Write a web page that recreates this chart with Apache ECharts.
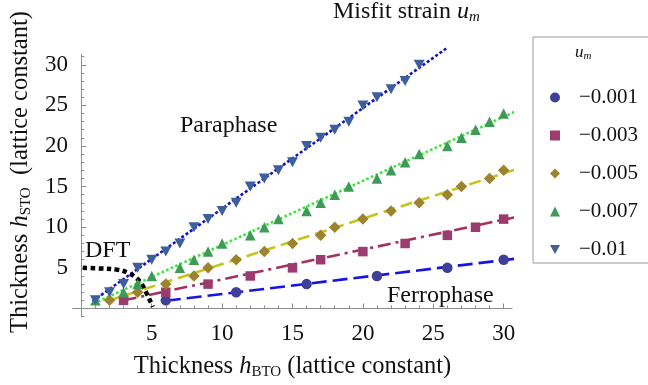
<!DOCTYPE html>
<html>
<head>
<meta charset="utf-8">
<script src="https://cdn.jsdelivr.net/npm/echarts@6/dist/echarts.min.js"></script>
<style>html,body{margin:0;padding:0;background:#fff;}#c{width:648px;height:385px;}</style>
</head>
<body>
<div id="c"></div>
<script>
// ---- data (h_BTO, h_STO) ----
const legendNames = ['\u22120.001', '\u22120.003', '\u22120.005', '\u22120.007', '\u22120.01'];
const ptsM001 = [[6,1],[11,2],[16,3],[21,4],[26,5],[30,6]];
const ptsM003 = [[3,1],[6,2],[9,3],[12,4],[15,5],[17,6],[20,7],[23,8],[26,9],[28,10],[30,11]];
const ptsM005 = [[2,1],[4,2],[6,3],[8,4],[9,5],[11,6],[13,7],[15,8],[17,9],[18,10],[20,11],[22,12],[24,13],[26,14],[27,15],[29,16],[30,17]];
const ptsM007 = [[1,1],[3,2],[4,3],[5,4],[7,5],[8,6],[9,7],[10,8],[12,9],[13,10],[14,11],[16,12],[17,13],[18,14],[19,15],[21,16],[22,17],[23,18],[24,19],[26,20],[27,21],[28,22],[29,23],[30,24]];
const ptsM010 = [[1,1],[2,2],[3,3],[4,5],[5,6],[6,7],[7,8],[8,10],[9,11],[10,12],[11,13],[12,15],[13,16],[14,17],[15,18],[16,20],[17,21],[18,22],[19,23],[20,25],[21,26],[22,27],[23,28],[24,30]];
// fitted straight lines (end points)
const fitM001 = [[6,0.95],[31.2,6.2]];
const fitM003 = [[3,1.0],[31,11.3]];
const fitM005 = [[2,1.0],[31,17.2]];
const fitM007 = [[0.85,0.6],[30.9,24.3]];
const fitM010 = [[0.8,0.9],[26,32.1]];
// DFT boundary curve
const dftCurve = [[0.1,5.0],[1.4,4.92],[2.5,4.78],[3.3,4.4],[3.9,3.75],[4.3,2.95],[4.65,1.8],[4.95,0.7],[5.08,0.2]];
// ticks
const xMajor = [5,10,15,20,25,30];
const xMinor = [1,2,3,4,6,7,8,9,11,12,13,14,16,17,18,19,21,22,23,24,26,27,28,29];
const yMajor = [5,10,15,20,25,30];
const yMinor = [-1,1,2,3,4,6,7,8,9,11,12,13,14,16,17,18,19,21,22,23,24,26,27,28,29,31];

const SERIF = '"Liberation Serif", "DejaVu Serif", serif';
const markerColors = ['#3f3f99', '#9a3d6e', '#9c8330', '#3f9a58', '#3d5f9c'];
const lineColors = ['#1414e6', '#a3305f', '#c4c41e', '#3ae83a', '#1212c8'];
const downTri = 'path://M0,0 L10,0 L5,9 Z';

const chart = echarts.init(document.getElementById('c'), null, {renderer: 'canvas'});
const XMIN = -0.6, XMAX = 30.6, YMIN = -1.05, YMAX = 31.3;
const axisColor = '#8c8c8c';
const TXT = '#111';

function richName(fs) {
  return {
    a: {fontFamily: SERIF, fontSize: fs, color: TXT},
    i: {fontFamily: SERIF, fontSize: fs, fontStyle: 'italic', color: TXT},
    s: {fontFamily: SERIF, fontSize: Math.round(fs * 0.62), color: TXT, padding: [Math.round(fs * 0.5), 0, 0, 0]}
  };
}

function xAx(major) {
  return {
    type: 'value', min: XMIN, max: XMAX, position: 'bottom',
    axisLine: {show: major, onZero: true, onZeroAxisIndex: 0, lineStyle: {color: axisColor, width: 1}},
    axisTick: {show: true, inside: true, length: major ? 5 : 3, customValues: major ? xMajor : xMinor, lineStyle: {color: axisColor}},
    axisLabel: major ? {show: true, customValues: xMajor, margin: 5, color: TXT, fontFamily: SERIF, fontSize: 23} : {show: false},
    splitLine: {show: false},
    name: major ? '{a|Thickness }{i|h}{s|BTO}{a| (lattice constant)}' : '',
    nameLocation: 'middle', nameGap: 36,
    nameTextStyle: {fontFamily: SERIF, fontSize: 24.5, color: TXT, rich: richName(24.5)}
  };
}
function yAx(major) {
  return {
    type: 'value', min: YMIN, max: YMAX, position: 'left',
    axisLine: {show: major, onZero: true, onZeroAxisIndex: 0, lineStyle: {color: axisColor, width: 1}},
    axisTick: {show: true, inside: true, length: major ? 5 : 3, customValues: major ? yMajor : yMinor, lineStyle: {color: axisColor}},
    axisLabel: major ? {show: true, customValues: yMajor, margin: 5, color: TXT, fontFamily: SERIF, fontSize: 23} : {show: false},
    splitLine: {show: false},
    name: major ? '{a|Thickness }{i|h}{s|STO}{a|  (lattice constant)}' : '',
    nameLocation: 'middle', nameGap: 38, nameRotate: 90,
    nameTextStyle: {fontFamily: SERIF, fontSize: 24.5, color: TXT, padding: [0, 0, 0, 27], rich: richName(24.5)}
  };
}

function fitLine(data, color, type, width) {
  return {
    type: 'line', data: data, xAxisIndex: 0, yAxisIndex: 0, symbol: 'none', clip: false,
    silent: true, z: 2, animation: false,
    lineStyle: {color: color, width: width || 2.6, type: type}
  };
}
function pts(name, data, symbol, size, color) {
  return {
    type: 'scatter', name: name, data: data, xAxisIndex: 0, yAxisIndex: 0,
    symbol: symbol, symbolSize: size, z: 3, animation: false, clip: false,
    itemStyle: {color: color, opacity: 1}
  };
}

const option = {
  animation: false,
  grid: {left: 64.4, right: 135.9, top: 54.2, bottom: 62.3, containLabel: false},
  xAxis: [xAx(true), xAx(false)],
  yAxis: [yAx(true), yAx(false)],
  legend: {
    orient: 'vertical', left: 533, top: 37,
    data: legendNames,
    padding: [50, 14, 3, 17], itemGap: 17,
    itemWidth: 10, itemHeight: 10,
    borderColor: '#9a9a9a', borderWidth: 1,
    textStyle: {fontFamily: SERIF, fontSize: 21, color: TXT, padding: [0, 0, 0, 14]},
    selectedMode: false
  },
  series: [
    fitLine(fitM001, lineColors[0], [15, 6]),
    fitLine(fitM003, lineColors[1], [13, 5, 3, 5]),
    fitLine(fitM005, lineColors[2], [12, 6]),
    fitLine(fitM007, lineColors[3], [2.6, 2.4]),
    fitLine(fitM010, lineColors[4], [3, 2.2]),
    Object.assign(fitLine(dftCurve, '#000000', [4.5, 3.5], 4.5), {smooth: true}),
    pts(legendNames[0], ptsM001, 'circle', 10.5, markerColors[0]),
    pts(legendNames[1], ptsM003, 'rect', 9.5, markerColors[1]),
    pts(legendNames[2], ptsM005, 'diamond', 11.5, markerColors[2]),
    pts(legendNames[3], ptsM007, 'triangle', 10.5, markerColors[3]),
    pts(legendNames[4], ptsM010, downTri, [11, 10], markerColors[4])
  ],
  graphic: [
    {type: 'text', left: 333, top: 0, style: {
      text: '{a|Misfit strain }{i|u}{s|m}', fill: TXT,
      rich: {
        a: {fontFamily: SERIF, fontSize: 24, fill: TXT},
        i: {fontFamily: SERIF, fontSize: 24, fontStyle: 'italic', fill: TXT},
        s: {fontFamily: SERIF, fontSize: 15, fontStyle: 'italic', fill: TXT, padding: [11, 0, 0, 0]}
      }}},
    {type: 'text', left: 180, top: 114, style: {text: 'Paraphase', font: '24px ' + SERIF, fill: TXT}},
    {type: 'text', left: 387, top: 284, style: {text: 'Ferrophase', font: '24px ' + SERIF, fill: TXT}},
    {type: 'text', left: 85, top: 239, style: {text: 'DFT', font: '24px ' + SERIF, fill: TXT}},
    {type: 'text', left: 575, top: 44, style: {
      text: '{i|u}{s|m}',
      rich: {
        i: {fontFamily: SERIF, fontSize: 17, fontStyle: 'italic', fill: TXT},
        s: {fontFamily: SERIF, fontSize: 11, fontStyle: 'italic', fill: TXT, padding: [7, 0, 0, 0]}
      }}}
  ]
};
chart.setOption(option);
</script>
</body>
</html>
